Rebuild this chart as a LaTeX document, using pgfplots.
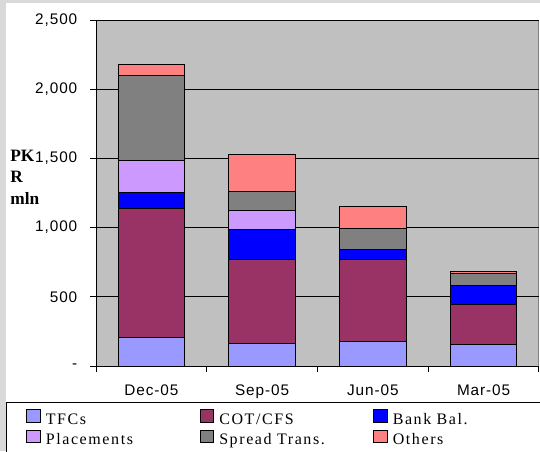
\documentclass[border=0pt]{standalone}
\usepackage{fontspec}
\setmainfont{Liberation Serif}
\newfontfamily\arialsp[LetterSpace=6]{Liberation Sans}
\newfontfamily\timessp[LetterSpace=10]{Liberation Serif}
\usepackage{pgfplots}
\usepackage{pgfplotstable}
\pgfplotsset{compat=1.18}

\definecolor{outerbg}{RGB}{217,217,217}
\definecolor{plotbg}{RGB}{192,192,192}
\definecolor{cTFC}{RGB}{153,153,255}
\definecolor{cCOT}{RGB}{153,51,102}
\definecolor{cBank}{RGB}{0,0,255}
\definecolor{cPlac}{RGB}{204,153,255}
\definecolor{cSpread}{RGB}{128,128,128}
\definecolor{cOth}{RGB}{255,128,128}

% values in PKR mln
\pgfplotstableread{
x TFC COT Bank Plac Spread Oth
0 204 935 113 231 617 75
1 164 609 210 144 137 261
2 178 593 72  0   147 164
3 154 294 137 0   85  15
}\data

\begin{document}
\begin{tikzpicture}[x=1pt,y=1pt]
\useasboundingbox (0,0) rectangle (405,338.25);
\fill[outerbg] (0,0) rectangle (405,338.25);
\fill[white] (4.5,0) rectangle (406,336);
\draw[black,line width=0.75pt] (4.5,-2) rectangle (406,36.5);
\begin{axis}[
  at={(72pt,63.75pt)}, anchor=south west,
  scale only axis, width=332.25pt, height=259.5pt,
  ybar stacked, bar width=0.6,
  xmin=-0.5, xmax=3.5, ymin=0, ymax=2500,
  xtick={-0.5,0.5,1.5,2.5,3.5}, x tick label as interval,
  xticklabels={Dec-05,Sep-05,Jun-05,Mar-05},
  ytick={0,500,1000,1500,2000,2500},
  yticklabels={-\hspace{18pt},500,{1,000},{1,500},{2,000},{2,500}},
  axis x line*=bottom, axis y line*=left,
  axis line style={-,black,line width=0.75pt},
  tick align=outside, major tick length=4.5pt,
  tick style={black,line width=0.75pt},
  ymajorgrids, major grid style={black,line width=0.75pt},
  axis background/.style={fill=plotbg,draw=cSpread,line width=0.75pt},
  tick label style={font=\arialsp\fontsize{11.5}{12}\selectfont},
  yticklabel style={xshift=-6pt},
  xticklabel style={yshift=-6pt},
  /pgf/number format/assume math mode=true,
  every axis y label/.style={at={(axis description cs:-0.194,0.626)},
    anchor=north west, align=left, inner sep=0pt,
    font=\bfseries\fontsize{13}{16.3}\selectfont},
  ylabel={PK\\R\\mln},
  every axis plot/.append style={draw=black,line width=0.75pt},
  legend columns=3,
  legend style={at={(-0.158,-0.1243)}, anchor=north west,
    draw=none, fill=none, inner sep=0pt, column sep=0pt, row sep=1.1pt,
    font=\timessp\fontsize{12}{14}\selectfont,
    nodes={inner xsep=0pt, inner ysep=0pt, text width=115.5pt, align=left,
      text height=9pt, text depth=3pt}},
  legend image code/.code={
    \draw[#1,draw=black,line width=0.75pt] (0pt,-1.5pt) rectangle (10pt,7.7pt);
    \path[draw=none,fill=none] (0pt,0pt) -- (14.25pt,0pt);},
]
\addplot[fill=cTFC] table[x=x,y=TFC] {\data};
\addplot[fill=cCOT] table[x=x,y=COT] {\data};
\addplot[fill=cBank] table[x=x,y=Bank] {\data};
\addplot[fill=cPlac] table[x=x,y=Plac] {\data};
\addplot[fill=cSpread] table[x=x,y=Spread] {\data};
\addplot[fill=cOth] table[x=x,y=Oth] {\data};
\legend{TFCs,COT/CFS,Bank Bal.,Placements,Spread Trans.,Others}
\end{axis}
\end{tikzpicture}
\end{document}
